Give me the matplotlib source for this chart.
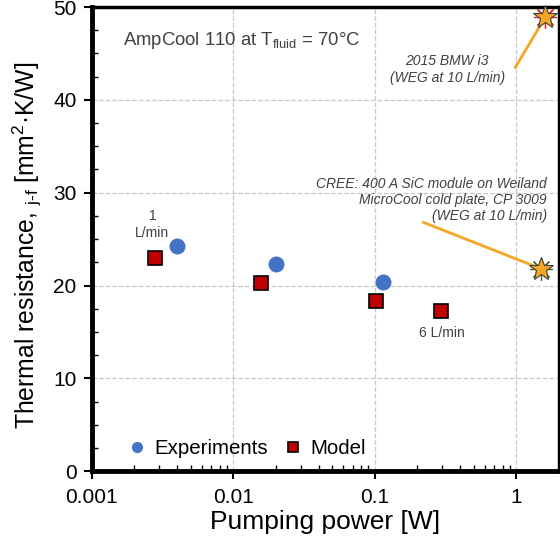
import matplotlib
matplotlib.use("Agg")
import matplotlib.pyplot as plt
from matplotlib.ticker import FixedLocator, FixedFormatter, LogLocator, MultipleLocator, NullFormatter

plt.rcParams['font.family'] = ['Liberation Sans', 'DejaVu Sans']
plt.rcParams['mathtext.fontset'] = 'custom'
plt.rcParams['mathtext.rm'] = 'Liberation Sans'
plt.rcParams['mathtext.it'] = 'Liberation Sans:italic'

# Data
exp_power = [0.0040, 0.0201, 0.114]
exp_res = [24.3, 22.3, 20.4]
model_power = [0.00278, 0.0157, 0.1017, 0.296]
model_res = [23.0, 20.3, 18.3, 17.3]
bmw_power, bmw_res = 1.6, 48.9
cree_power, cree_res = 1.5, 21.8
x_ticks = [0.001, 0.01, 0.1, 1]
x_labels = ['0.001', '0.01', '0.1', '1']
y_ticks = [0, 10, 20, 30, 40, 50]

fig = plt.figure(figsize=(5.6, 5.41), dpi=100)
ax = fig.add_axes([0.164, 0.129, 0.834, 0.858])

ax.set_xscale('log')
ax.set_xlim(0.001, 2)
ax.set_ylim(0, 50)

ax.grid(True, which='major', color='#c8c8c8', linestyle='--', linewidth=0.9)
ax.set_axisbelow(True)

# annotation lines
ax.plot([0.985, bmw_power], [43.5, bmw_res], color='#f5a623', lw=2, zorder=3, clip_on=False)
ax.plot([0.221, cree_power], [26.8, cree_res], color='#f5a623', lw=2, zorder=3, clip_on=False)

ax.plot(exp_power, exp_res, 'o', color='#4472c4', markersize=11.5, markeredgewidth=0,
        label='Experiments', zorder=4, clip_on=False)
ax.plot(model_power, model_res, 's', color='#c00000', markeredgecolor='black',
        markersize=10, markeredgewidth=1.2, label='Model', zorder=4, clip_on=False)

for (px, py, ec) in [(bmw_power, bmw_res, '#e02020'), (cree_power, cree_res, '#3a6a2a')]:
    ax.plot(px, py, marker=(8, 2, 0), color=ec, markersize=16, markeredgewidth=0.9,
            zorder=5, clip_on=False)
    ax.plot(px, py, marker='*', color='#f5a623', markeredgecolor='#404040',
            markersize=18, markeredgewidth=0.8, zorder=6, clip_on=False)

ax.xaxis.set_major_locator(FixedLocator(x_ticks))
ax.xaxis.set_major_formatter(FixedFormatter(x_labels))
ax.xaxis.set_minor_locator(LogLocator(base=10, subs=range(2, 10)))
ax.xaxis.set_minor_formatter(NullFormatter())
ax.yaxis.set_major_locator(FixedLocator(y_ticks))
ax.yaxis.set_minor_locator(MultipleLocator(2.5))

ax.tick_params(which='major', direction='out', length=6, width=1.5, labelsize=15, colors='black')
ax.tick_params(which='minor', direction='in', length=4, width=1.0)
ax.tick_params(axis='x', which='major', pad=6)
ax.tick_params(axis='y', which='major', pad=5)

for s in ['left', 'bottom']:
    ax.spines[s].set_linewidth(3.5)
for s in ['top', 'right']:
    ax.spines[s].set_linewidth(2.5)

ax.set_xlabel('Pumping power [W]', fontsize=19, labelpad=2)
ax.set_ylabel('Thermal resistance, $_{\\mathrm{j\u2010f}}$ [mm$^{2}$\u00b7K/W]', fontsize=17.8)
ax.yaxis.set_label_coords(-0.103, 0.487)

ax.text(0.067, 0.928, 'AmpCool 110 at T$_{\\mathrm{fluid}}$ = 70\u00b0C', transform=ax.transAxes,
        fontsize=13.3, color='#404040', ha='left', va='center')

ax.annotate('2015 BMW i3\n(WEG at 10 L/min)', xy=(0.325, 43.3), ha='center', va='center',
            fontsize=10, style='italic', color='#404040', linespacing=1.25)
ax.annotate('CREE: 400 A SiC module on Weiland\nMicroCool cold plate, CP 3009\n(WEG at 10 L/min)',
            xy=(1.65, 29.2), ha='right', va='center', fontsize=10, style='italic',
            color='#404040', linespacing=1.2)
ax.annotate('1\nL/min', xy=(0.00268, 26.6), ha='center', va='center', fontsize=10,
            color='#404040', linespacing=1.3)
ax.annotate('6 L/min', xy=(0.3, 14.9), ha='center', va='center', fontsize=10, color='#404040')

leg = ax.legend(loc='lower left', bbox_to_anchor=(0.04, -0.012), ncol=2, frameon=False,
                fontsize=14.8, handlelength=0.8, handletextpad=0.45, columnspacing=0.8,
                markerscale=0.7)

fig.savefig('out.png', dpi=100)
